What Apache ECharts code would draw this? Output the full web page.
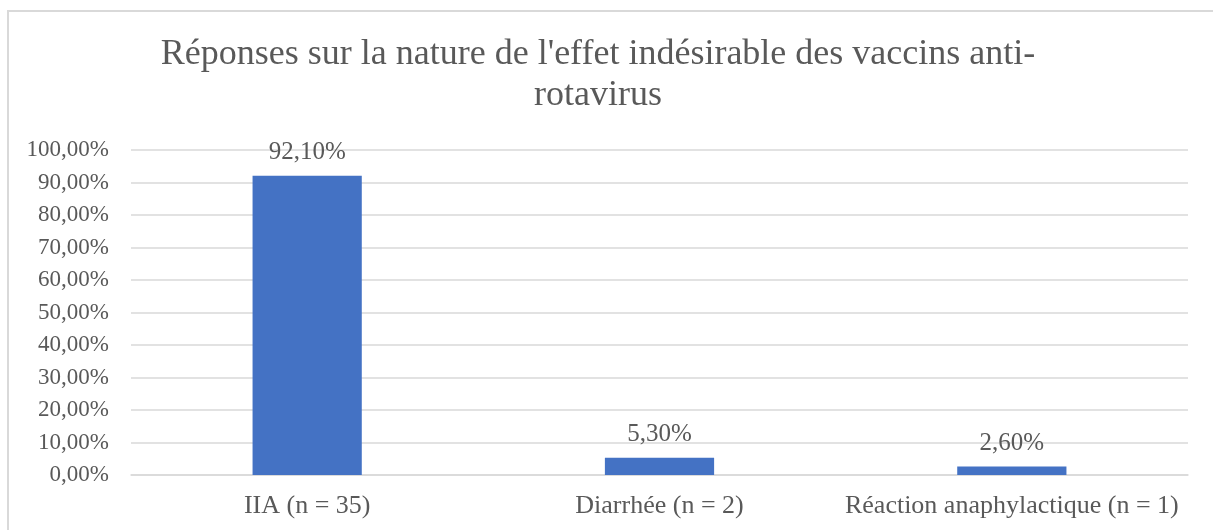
<!DOCTYPE html>
<html>
  <head>
    <meta charset="utf-8">
    <title>Réponses sur la nature de l'effet indésirable</title>
    <script src="https://cdn.jsdelivr.net/npm/echarts@6/dist/echarts.min.js"></script>
    <style>
    html, body { margin: 0; padding: 0; background: #fff; }
    #frame {
      position: absolute; left: 7px; top: 10px; width: 1220px; height: 540px;
      border-left: 2px solid #d9d9d9; border-top: 2px solid #d9d9d9;
    }
    #chart { position: absolute; left: 0; top: 0; width: 1213px; height: 530px; }
    </style>
  </head>
  <body>
    <div id="frame"></div>
    <div id="chart"></div>
    <script type="text/javascript">
      var categories = ['IIA (n = 35)', 'Diarrhée (n = 2)', 'Réaction anaphylactique (n = 1)'];
      var values = [92.1, 5.3, 2.6];
      var yTicks = [0, 10, 20, 30, 40, 50, 60, 70, 80, 90, 100];

      var fontFamily = '"Liberation Serif", "Times New Roman", serif';
      var textColor = '#595959';

      function pct(v) {
        return v.toFixed(2).replace('.', ',') + '%';
      }

      var chart = echarts.init(document.getElementById('chart'));
      var option = {
        animation: false,
        title: {
          text: "Réponses sur la nature de l'effet indésirable des vaccins anti-\nrotavirus",
          left: 593,
          top: 29,
          textAlign: 'center',
          textStyle: {
            fontFamily: fontFamily,
            fontWeight: 'normal',
            fontSize: 36,
            lineHeight: 41,
            color: textColor
          }
        },
        grid: { left: 131, right: 25, top: 150, bottom: 55 },
        xAxis: {
          type: 'category',
          data: categories,
          axisLine: { lineStyle: { color: '#d9d9d9', width: 1.5 } },
          axisTick: { show: false },
          axisLabel: {
            interval: 0,
            fontFamily: fontFamily, fontSize: 26, color: textColor, margin: 18
          }
        },
        yAxis: {
          type: 'value',
          min: yTicks[0],
          max: yTicks[yTicks.length - 1],
          interval: 10,
          axisLine: { show: false },
          axisTick: { show: false },
          splitLine: { lineStyle: { color: '#d9d9d9', width: 1.5 } },
          axisLabel: {
            fontFamily: fontFamily, fontSize: 23, color: textColor, margin: 22,
            formatter: function (v) { return pct(v); }
          }
        },
        series: [{
          type: 'bar',
          data: values,
          barWidth: '31%',
          itemStyle: { color: '#4472C4' },
          label: {
            show: true,
            position: 'top',
            distance: 11,
            fontFamily: fontFamily,
            fontSize: 25,
            color: textColor,
            formatter: function (p) { return pct(p.value); }
          }
        }]
      };
      chart.setOption(option);
    </script>
  </body>
</html>
